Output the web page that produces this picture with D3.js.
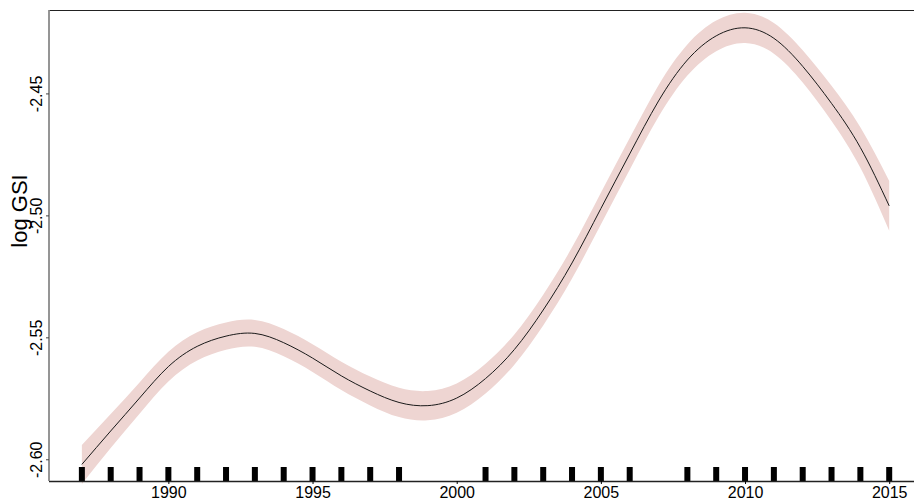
<!DOCTYPE html>
<html>
<head>
    <meta charset="utf-8">
    <title>log GSI</title>
    <script src="https://cdn.jsdelivr.net/npm/d3@7/dist/d3.min.js"></script>
    <style>
        body { margin: 0; background: white; }
        svg text { font-family: Arial, "Liberation Sans", sans-serif; }
    </style>
</head>
<body>
    <svg width="914" height="502" id="mainsvg"></svg>
    <script>
        // fitted smooth, one value per year
        const years = [1987, 1988, 1989, 1990, 1991, 1992, 1993, 1994, 1995, 1996,
            1997, 1998, 1999, 2000, 2001, 2002, 2003, 2004, 2005, 2006,
            2007, 2008, 2009, 2010, 2011, 2012, 2013, 2014, 2015];
        const fit = [-2.6021, -2.5884, -2.5749, -2.5620, -2.5537, -2.5495, -2.5484, -2.5522, -2.5585, -2.5658,
            -2.5720, -2.5767, -2.5780, -2.5749, -2.5669, -2.5550, -2.5388, -2.5195, -2.4972, -2.4748,
            -2.4531, -2.4363, -2.4264, -2.4231, -2.4274, -2.4389, -2.4541, -2.4722, -2.4961];
        // half width of the confidence band
        const band = [0.0080, 0.0070, 0.0064, 0.0061, 0.0058, 0.0056, 0.0055, 0.0056, 0.0057, 0.0058,
            0.0059, 0.0060, 0.0060, 0.0060, 0.0061, 0.0062, 0.0063, 0.0064, 0.0065, 0.0065,
            0.0065, 0.0064, 0.0063, 0.0062, 0.0063, 0.0066, 0.0072, 0.0083, 0.0102];
        // years with observations (rug)
        const rugYears = [1987, 1988, 1989, 1990, 1991, 1992, 1993, 1994, 1995, 1996, 1997, 1998,
            2001, 2002, 2003, 2004, 2005, 2006,
            2008, 2009, 2010, 2011, 2012, 2013, 2014, 2015];
        const xTicks = [1990, 1995, 2000, 2005, 2010, 2015];
        const yTicks = [-2.60, -2.55, -2.50, -2.45];

        const svg = d3.select('#mainsvg');
        const mLeft = 49, mRight = 914, mTop = 10, mBottom = 481;

        const x = d3.scaleLinear().domain([1985.86, 2015.86]).range([mLeft, mRight]);
        const y = d3.scaleLinear().domain([-2.6089, -2.4158]).range([mBottom, mTop]);

        const data = years.map((d, i) => ({ year: d, fit: fit[i], lo: fit[i] - band[i], hi: fit[i] + band[i] }));

        // confidence band
        const area = d3.area()
            .x(d => x(d.year))
            .y0(d => y(d.lo))
            .y1(d => y(d.hi))
            .curve(d3.curveNatural);
        svg.append('path')
            .datum(data)
            .attr('d', area)
            .attr('fill', '#eed5d2');

        // fitted line
        const line = d3.line()
            .x(d => x(d.year))
            .y(d => y(d.fit))
            .curve(d3.curveNatural);
        svg.append('path')
            .datum(data)
            .attr('d', line)
            .attr('fill', 'none')
            .attr('stroke', '#1a1a1a')
            .attr('stroke-width', 1);

        // rug
        svg.selectAll('.rug').data(rugYears).join('rect')
            .attr('class', 'rug')
            .attr('x', d => x(d) - 3)
            .attr('y', mBottom - 14)
            .attr('width', 6)
            .attr('height', 14)
            .attr('fill', 'black');

        // top border
        svg.append('line')
            .attr('x1', mLeft).attr('x2', mRight)
            .attr('y1', mTop + 0.5).attr('y2', mTop + 0.5)
            .attr('stroke', '#222').attr('stroke-width', 1.2);

        // x axis
        const gx = svg.append('g')
            .attr('transform', `translate(0,${mBottom})`)
            .call(d3.axisBottom(x).tickValues(xTicks).tickSize(3).tickPadding(3).tickFormat(d3.format('d')));
        gx.select('.domain').attr('stroke', '#222').attr('stroke-width', 1.5)
            .attr('d', `M${mLeft},0.5H${mRight}`);
        gx.selectAll('text').attr('font-size', '16px').attr('fill', 'black')
            .style('font-family', 'Arial, "Liberation Sans", sans-serif');

        // y axis
        const gy = svg.append('g')
            .attr('transform', `translate(${mLeft},0)`)
            .call(d3.axisLeft(y).tickValues(yTicks).tickSize(3).tickFormat(d => d.toFixed(2)));
        gy.select('.domain').attr('stroke', '#8a8a8a').attr('stroke-width', 1.8)
            .attr('d', `M0,${mTop}V${mBottom}`);
        gy.selectAll('.tick line').attr('stroke', '#444');
        gy.selectAll('text')
            .attr('transform', 'rotate(-90)')
            .attr('x', 0)
            .attr('y', -7)
            .attr('dy', 0)
            .attr('text-anchor', 'middle')
            .attr('font-size', '16px')
            .attr('fill', 'black')
            .style('font-family', 'Arial, "Liberation Sans", sans-serif');

        // y label
        svg.append('text')
            .attr('transform', `translate(27,211) rotate(-90)`)
            .attr('text-anchor', 'middle')
            .attr('font-size', '22px')
            .attr('fill', 'black')
            .text('log GSI');
    </script>
</body>
</html>
